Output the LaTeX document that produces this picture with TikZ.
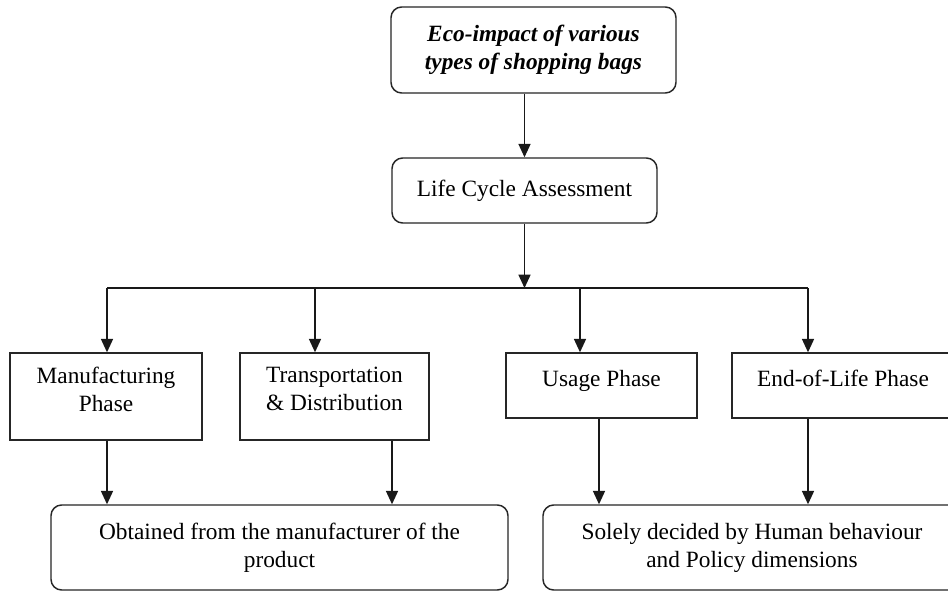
\documentclass[tikz,border=0pt]{standalone}
\usepackage{fontspec}
\setmainfont{Liberation Serif}
\usetikzlibrary{arrows.meta}
\newdimen\pxu \pxu=0.75pt
\begin{document}
\begin{tikzpicture}[x=0.75pt,y=-0.75pt,
  box/.style={draw=black!85, line width=1.1pt, align=center, inner sep=0pt,
    font=\fontsize{17.5}{21}\selectfont},
  rbox/.style={box, rounded corners=8pt},
  phaseup/.style={text depth=11pt},
  arr/.style={draw=black!90, line width=1.1pt, -{Triangle[length=10pt,width=9pt]}},
  ln/.style={draw=black!90, line width=1.1pt}]
\useasboundingbox (0,0) rectangle (948,592);
\clip (0,0) rectangle (948,592);
\fill[white] (0,0) rectangle (948,592);
\node[rbox, minimum width=285\pxu, minimum height=86\pxu, font=\fontsize{17.5}{21}\selectfont\bfseries\itshape] (top) at (533.5,50) {Eco-impact of various\\types of shopping bags};
\node[rbox, minimum width=265\pxu, minimum height=65\pxu] (lca) at (524.5,190.5) {Life Cycle Assessment};
\node[box, phaseup, minimum width=192\pxu, minimum height=87\pxu] (man) at (106,396.5) {Manufacturing\\Phase};
\node[box, phaseup, minimum width=189\pxu, minimum height=87\pxu] (trans) at (334.5,396.5) {Transportation\\\& Distribution};
\node[box, phaseup, minimum width=191\pxu, minimum height=65\pxu] (use) at (601.5,385.5) {Usage Phase};
\node[box, phaseup, minimum width=222\pxu, minimum height=65\pxu] (eol) at (843,385.5) {End-of-Life Phase};
\node[rbox, minimum width=457\pxu, minimum height=85\pxu] (botl) at (279.5,547.5) {Obtained from the manufacturer of the\\product};
\node[rbox, minimum width=418\pxu, minimum height=85\pxu] (botr) at (752,547.5) {Solely decided by Human behaviour\\and Policy dimensions};
% bus coordinates
\coordinate (bc) at (524.5,288);
\coordinate (b1) at (107,288);
\coordinate (b2) at (315,288);
\coordinate (b3) at (580,288);
\coordinate (b4) at (808,288);
\coordinate (g2) at (392,470);
\coordinate (g3) at (599,470);
\draw[arr] (top.south -| lca.north) -- (lca.north);
\draw[arr] (lca.south) -- (bc);
\draw[ln] (b1) -- (b4);
\draw[arr] (b1) -- (b1 |- man.north);
\draw[arr] (b2) -- (b2 |- trans.north);
\draw[arr] (b3) -- (b3 |- use.north);
\draw[arr] (b4) -- (b4 |- eol.north);
\draw[arr] (man.south -| b1) -- (botl.north -| b1);
\draw[arr] (trans.south -| g2) -- (botl.north -| g2);
\draw[arr] (use.south -| g3) -- (botr.north -| g3);
\draw[arr] (eol.south -| b4) -- (botr.north -| b4);
\end{tikzpicture}
\end{document}
